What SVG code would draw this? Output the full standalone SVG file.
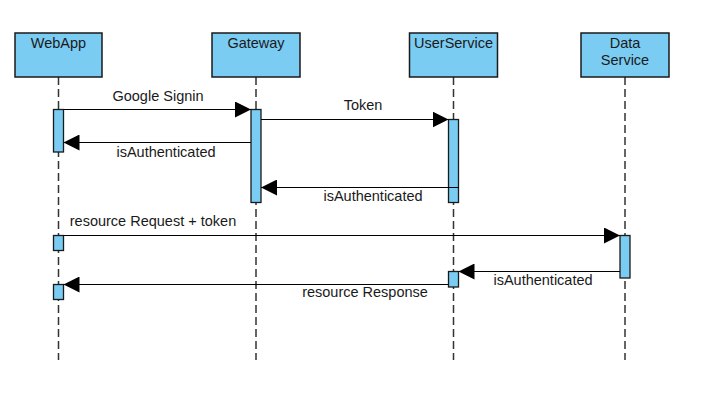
<svg xmlns="http://www.w3.org/2000/svg" width="722" height="411" viewBox="0 0 722 411">
<defs>
<style>
.box{fill:#7accf3;stroke:#1a1a1a;stroke-width:1.5}
.bar{fill:#7accf3;stroke:#1a1a1a;stroke-width:1.3}
.life{stroke:#333;stroke-width:1.5;stroke-dasharray:8 4;fill:none}
.msg{stroke:#000;stroke-width:1.2;fill:none}
text{font-family:"Liberation Sans",Arial,sans-serif;font-size:14.5px;fill:#1a1a1a;text-anchor:middle}
</style>
<marker id="ah" viewBox="0 0 16 16" refX="16" refY="8" markerWidth="16" markerHeight="16" markerUnits="userSpaceOnUse" orient="auto">
<path d="M0,0 L16,8 L0,16 Z" fill="#000"/>
</marker>
</defs>
<rect width="722" height="411" fill="#fff"/>
<g id="lifelines">
<line class="life" x1="58.5" y1="77" x2="58.5" y2="360"/>
<line class="life" x1="256" y1="77" x2="256" y2="360"/>
<line class="life" x1="453.5" y1="77" x2="453.5" y2="360"/>
<line class="life" x1="625" y1="77" x2="625" y2="360"/>
</g>
<g id="webapp">
<rect class="box" x="15" y="33" width="87" height="44"/>
<text x="58.5" y="47.5">WebApp</text>
</g>
<g id="gateway">
<rect class="box" x="212" y="33" width="88" height="44"/>
<text x="256" y="47.5">Gateway</text>
</g>
<g id="userservice">
<rect class="box" x="409.5" y="33" width="88" height="44"/>
<text x="453.5" y="47.5">UserService</text>
</g>
<g id="dataservice">
<rect class="box" x="581" y="33" width="88" height="44"/>
<text x="625" y="47.5">Data</text>
<text x="625" y="65">Service</text>
</g>
<g id="activations">
<rect class="bar" x="53.5" y="109.5" width="10" height="42.5"/>
<rect class="bar" x="251" y="109.5" width="10" height="93"/>
<rect class="bar" x="448.5" y="119.5" width="10" height="83"/>
<rect class="bar" x="53.5" y="235.5" width="10" height="15"/>
<rect class="bar" x="620" y="235.5" width="10" height="42.5"/>
<rect class="bar" x="448.5" y="271.5" width="10" height="15.5"/>
<rect class="bar" x="53.5" y="284.5" width="10" height="15"/>
</g>
<g id="connectors">
<line class="msg" x1="63.5" y1="109.5" x2="251" y2="109.5" marker-end="url(#ah)"/>
<line class="msg" x1="261" y1="119.5" x2="448.5" y2="119.5" marker-end="url(#ah)"/>
<line class="msg" x1="251" y1="142.5" x2="63.5" y2="142.5" marker-end="url(#ah)"/>
<line class="msg" x1="458.5" y1="187.5" x2="261" y2="187.5" marker-end="url(#ah)"/>
<line class="msg" x1="63.5" y1="235.5" x2="620" y2="235.5" marker-end="url(#ah)"/>
<line class="msg" x1="620" y1="271.5" x2="458.5" y2="271.5" marker-end="url(#ah)"/>
<line class="msg" x1="448.5" y1="284.5" x2="63.5" y2="284.5" marker-end="url(#ah)"/>
</g>
<g id="labels">
<text x="158" y="101">Google Signin</text>
<text x="363" y="110">Token</text>
<text x="166" y="157">isAuthenticated</text>
<text x="373" y="201">isAuthenticated</text>
<text x="153" y="226">resource Request + token</text>
<text x="543" y="285">isAuthenticated</text>
<text x="365" y="297">resource Response</text>
</g>
</svg>
